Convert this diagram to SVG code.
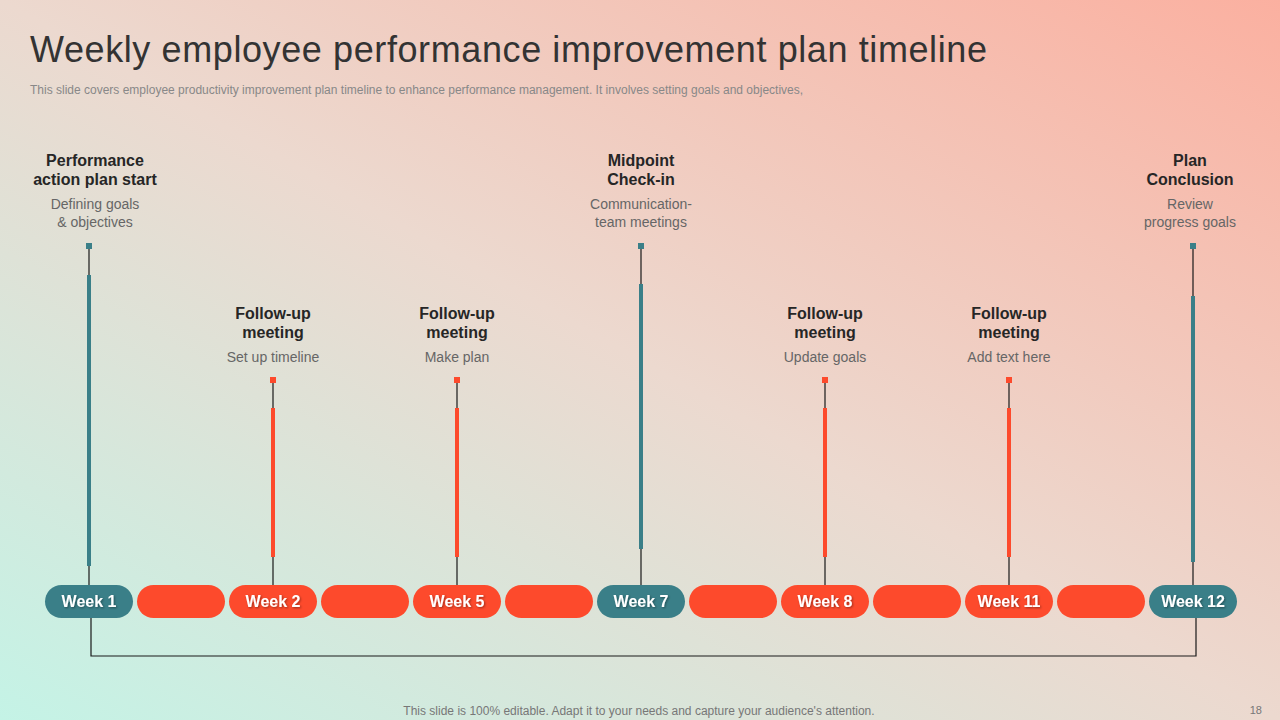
<svg xmlns="http://www.w3.org/2000/svg" width="1280" height="720" viewBox="0 0 1280 720">
<defs>
<linearGradient id="bg" x1="0" y1="1" x2="1" y2="0">
<stop offset="0" stop-color="#c4f3e6"/>
<stop offset="0.5" stop-color="#ecd9cf"/>
<stop offset="1" stop-color="#fbb0a0"/>
</linearGradient>
<filter id="sh"><feDropShadow dx="1" dy="1" stdDeviation="0.8" flood-color="#000" flood-opacity="0.4"/></filter>
</defs>
<style>
.t{font-family:"Liberation Sans",Arial,sans-serif}
.h{font-size:16px;font-weight:bold;fill:#262626;text-anchor:middle}
.s{font-size:14px;fill:#666;text-anchor:middle}
.wk{font-size:16px;font-weight:bold;fill:#fff;text-anchor:middle;filter:url(#sh)}
.teal{fill:#3a7f88}
.red{fill:#fd4a2c}
.thin{stroke:#1a1a1a;stroke-width:1.2;fill:none}
</style>
<rect width="1280" height="720" fill="url(#bg)"/>
<text class="t" x="30" y="62" font-size="36" fill="#333" letter-spacing="0.6">Weekly employee performance improvement plan timeline</text>
<text class="t" x="30" y="94" font-size="12" fill="#888">This slide covers employee productivity improvement plan timeline to enhance performance management. It involves setting goals and objectives,</text>
<g id="connectors">
<path class="thin" d="M89 249V585M273 383V585M457 383V585M641 249V585M825 383V585M1009 383V585M1193 249V585"/>
<path class="thin" d="M91 618V656H1196V618"/>
<rect class="teal" x="87" y="275" width="4" height="291"/>
<rect class="red" x="271" y="408" width="4" height="149"/>
<rect class="red" x="455" y="408" width="4" height="149"/>
<rect class="teal" x="639" y="284" width="4" height="265"/>
<rect class="red" x="823" y="408" width="4" height="149"/>
<rect class="red" x="1007" y="408" width="4" height="149"/>
<rect class="teal" x="1191" y="296" width="4" height="266"/>
<rect class="teal" x="86" y="243" width="6" height="6"/>
<rect class="red" x="270" y="377" width="6" height="6"/>
<rect class="red" x="454" y="377" width="6" height="6"/>
<rect class="teal" x="638" y="243" width="6" height="6"/>
<rect class="red" x="822" y="377" width="6" height="6"/>
<rect class="red" x="1006" y="377" width="6" height="6"/>
<rect class="teal" x="1190" y="243" width="6" height="6"/>
</g>
<g id="n1"><rect class="teal" x="45" y="585" width="88" height="33" rx="16.5"/><text class="t wk" x="89" y="607">Week 1</text>
<text class="t h" x="95" y="166">Performance</text><text class="t h" x="95" y="185">action plan start</text>
<text class="t s" x="95" y="209">Defining goals</text><text class="t s" x="95" y="227">&amp; objectives</text></g>
<g id="p1"><rect class="red" x="137" y="585" width="88" height="33" rx="16.5"/></g>
<g id="n2"><rect class="red" x="229" y="585" width="88" height="33" rx="16.5"/><text class="t wk" x="273" y="607">Week 2</text>
<text class="t h" x="273" y="319">Follow-up</text><text class="t h" x="273" y="338">meeting</text><text class="t s" x="273" y="362">Set up timeline</text></g>
<g id="p2"><rect class="red" x="321" y="585" width="88" height="33" rx="16.5"/></g>
<g id="n5"><rect class="red" x="413" y="585" width="88" height="33" rx="16.5"/><text class="t wk" x="457" y="607">Week 5</text>
<text class="t h" x="457" y="319">Follow-up</text><text class="t h" x="457" y="338">meeting</text><text class="t s" x="457" y="362">Make plan</text></g>
<g id="p3"><rect class="red" x="505" y="585" width="88" height="33" rx="16.5"/></g>
<g id="n7"><rect class="teal" x="597" y="585" width="88" height="33" rx="16.5"/><text class="t wk" x="641" y="607">Week 7</text>
<text class="t h" x="641" y="166">Midpoint</text><text class="t h" x="641" y="185">Check-in</text>
<text class="t s" x="641" y="209">Communication-</text><text class="t s" x="641" y="227">team meetings</text></g>
<g id="p4"><rect class="red" x="689" y="585" width="88" height="33" rx="16.5"/></g>
<g id="n8"><rect class="red" x="781" y="585" width="88" height="33" rx="16.5"/><text class="t wk" x="825" y="607">Week 8</text>
<text class="t h" x="825" y="319">Follow-up</text><text class="t h" x="825" y="338">meeting</text><text class="t s" x="825" y="362">Update goals</text></g>
<g id="p5"><rect class="red" x="873" y="585" width="88" height="33" rx="16.5"/></g>
<g id="n11"><rect class="red" x="965" y="585" width="88" height="33" rx="16.5"/><text class="t wk" x="1009" y="607">Week 11</text>
<text class="t h" x="1009" y="319">Follow-up</text><text class="t h" x="1009" y="338">meeting</text><text class="t s" x="1009" y="362">Add text here</text></g>
<g id="p6"><rect class="red" x="1057" y="585" width="88" height="33" rx="16.5"/></g>
<g id="n12"><rect class="teal" x="1149" y="585" width="88" height="33" rx="16.5"/><text class="t wk" x="1193" y="607">Week 12</text>
<text class="t h" x="1190" y="166">Plan</text><text class="t h" x="1190" y="185">Conclusion</text>
<text class="t s" x="1190" y="209">Review</text><text class="t s" x="1190" y="227">progress  goals</text></g>
<text class="t" x="639" y="715" font-size="12" fill="#777" text-anchor="middle">This slide is 100% editable. Adapt it to your needs and capture your audience's attention.</text>
<text class="t" x="1262" y="714" font-size="11" fill="#777" text-anchor="end">18</text>
</svg>
